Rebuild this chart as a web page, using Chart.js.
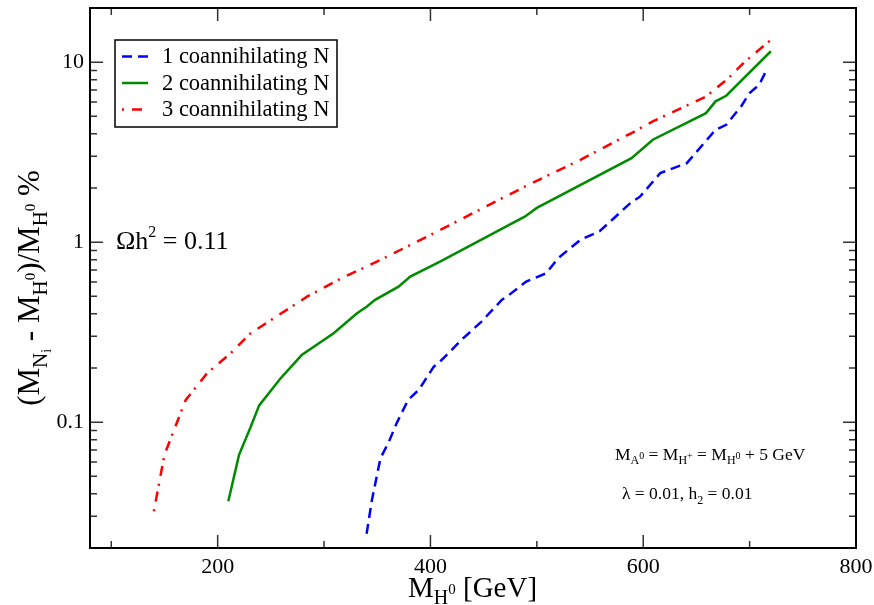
<!DOCTYPE html>
<html>
<head>
<meta charset="utf-8">
<script src="https://cdn.jsdelivr.net/npm/chart.js@4"></script>
<style>
  html, body { margin: 0; padding: 0; background: #fff; }
  #wrap { width: 874px; height: 605px; }
</style>
</head>
<body>
<div id="wrap"><canvas id="plot" width="874" height="605"></canvas></div>
<script>
// values
const mass1 = [340, 345, 353, 361, 368, 379, 389, 403, 409, 429, 448, 467, 472, 490, 509, 520, 541, 559, 588, 597, 616, 641, 668, 678, 692, 700, 709, 717];
const split1 = [0.024, 0.037, 0.063, 0.078, 0.098, 0.133, 0.151, 0.203, 0.217, 0.286, 0.362, 0.478, 0.499, 0.604, 0.673, 0.815, 1.03, 1.15, 1.65, 1.79, 2.42, 2.75, 4.21, 4.49, 5.68, 6.74, 7.5, 9.29];

const mass2 = [210, 220, 231, 239, 259, 279, 309, 331, 340, 348, 370, 381, 409, 489, 500, 589, 609, 659, 668, 678, 720];
const split2 = [0.0364, 0.0656, 0.094, 0.124, 0.175, 0.236, 0.312, 0.403, 0.438, 0.478, 0.566, 0.644, 0.78, 1.39, 1.55, 2.93, 3.71, 5.21, 6.06, 6.51, 11.5];

const mass3 = [140, 150, 170, 190, 212, 231, 284, 315, 353, 403, 489, 541, 589, 609, 659, 680, 695, 720];
const split3 = [0.032, 0.066, 0.133, 0.187, 0.241, 0.312, 0.498, 0.625, 0.797, 1.12, 2.04, 2.87, 4.04, 4.69, 6.44, 8.14, 10, 13.3];

const seriesNames = ["1 coannihilating N", "2 coannihilating N", "3 coannihilating N"];
const xMajor = [200, 400, 600, 800];
const xMinor = [100, 300, 500, 700];
const yMajor = [0.1, 1, 10];

const SERIF = '"Liberation Serif", "Times New Roman", serif';

function pts(xs, ys) {
    return xs.map((x, i) => ({ x: x, y: ys[i] }));
}

// draws a run of text pieces (sub/superscripts) starting at x, baseline y
function richWidth(ctx, parts) {
    let w = 0;
    for (const p of parts) {
        ctx.font = p.s + "px " + SERIF;
        w += ctx.measureText(p.t).width;
    }
    return w;
}
function drawRich(ctx, parts, x, y) {
    ctx.textBaseline = "alphabetic";
    ctx.textAlign = "left";
    for (const p of parts) {
        ctx.font = p.s + "px " + SERIF;
        ctx.fillText(p.t, x, y + (p.dy || 0));
        x += ctx.measureText(p.t).width;
    }
}

const decor = {
    id: "decor",
    afterDraw(chart) {
        const ctx = chart.ctx;
        const a = chart.chartArea;
        const xs = chart.scales.x, ys = chart.scales.y;
        ctx.save();
        ctx.fillStyle = "#000";

        // ticks pointing inwards on all four sides
        ctx.lineWidth = 1.5;
        ctx.strokeStyle = "#333";
        ctx.beginPath();
        const xt = (v, len) => {
            const px = xs.getPixelForValue(v);
            ctx.moveTo(px, a.bottom); ctx.lineTo(px, a.bottom - len);
            ctx.moveTo(px, a.top); ctx.lineTo(px, a.top + len);
        };
        xMajor.forEach(v => xt(v, 13));
        xMinor.forEach(v => xt(v, 7));
        const yt = (v, len) => {
            const py = ys.getPixelForValue(v);
            ctx.moveTo(a.left, py); ctx.lineTo(a.left + len, py);
            ctx.moveTo(a.right, py); ctx.lineTo(a.right - len, py);
        };
        yMajor.forEach(v => yt(v, 13));
        [0.01, 0.1, 1, 10].forEach(d => {
            for (let k = 2; k <= 9; k++) {
                const v = k * d;
                if (v > 0.02 && v < 20 && !yMajor.includes(v)) yt(v, 7);
            }
        });
        ctx.stroke();

        // frame
        ctx.strokeStyle = "#000";
        ctx.lineWidth = 2;
        ctx.strokeRect(a.left, a.top, a.right - a.left, a.bottom - a.top);

        // x title
        const xParts = [
            { t: "M", s: 29 }, { t: "H", s: 20, dy: 7 }, { t: "0", s: 15, dy: -3 },
            { t: " [GeV]", s: 29 }
        ];
        drawRich(ctx, xParts, 408, 597);

        // y title
        const yParts = [
            { t: "(M", s: 31 }, { t: "N", s: 21, dy: 8 }, { t: "i", s: 14, dy: 12 },
            { t: " - M", s: 31 }, { t: "H", s: 21, dy: 8 }, { t: "0", s: 15, dy: -4 },
            { t: ")/M", s: 31 }, { t: "H", s: 21, dy: 8 }, { t: "0", s: 15, dy: -4 },
            { t: " %", s: 31 }
        ];
        ctx.save();
        ctx.translate(39, 288);
        ctx.rotate(-Math.PI / 2);
        drawRich(ctx, yParts, -richWidth(ctx, yParts) / 2, 0);
        ctx.restore();

        // annotations
        drawRich(ctx, [
            { t: "\u03A9h", s: 26 }, { t: "2", s: 16, dy: -12 }, { t: " = 0.11", s: 26 }
        ], 116, 249);
        drawRich(ctx, [
            { t: "M", s: 17.5 }, { t: "A", s: 12, dy: 4 }, { t: "0", s: 10, dy: -1 },
            { t: " = M", s: 17.5 }, { t: "H", s: 12, dy: 4 }, { t: "+", s: 10, dy: -1 },
            { t: " = M", s: 17.5 }, { t: "H", s: 12, dy: 4 }, { t: "0", s: 10, dy: -1 },
            { t: " + 5 GeV", s: 17.5 }
        ], 615, 460);
        drawRich(ctx, [
            { t: "\u03BB = 0.01, h", s: 17.5 }, { t: "2", s: 12, dy: 5 }, { t: " = 0.01", s: 17.5 }
        ], 622, 499);

        // legend box
        ctx.lineWidth = 1.5;
        ctx.strokeStyle = "#000";
        ctx.fillStyle = "#fff";
        ctx.fillRect(115, 40, 222, 87);
        ctx.strokeRect(115, 40, 222, 87);
        chart.data.datasets.forEach((ds, i) => {
            const y = 56.5 + i * 26.5;
            ctx.beginPath();
            ctx.setLineDash(ds.borderDash || []);
            ctx.strokeStyle = ds.borderColor;
            ctx.lineWidth = ds.borderWidth;
            ctx.moveTo(122, y); ctx.lineTo(148, y);
            ctx.stroke();
            ctx.setLineDash([]);
            ctx.fillStyle = "#000";
            ctx.font = "22.5px " + SERIF;
            ctx.textBaseline = "middle";
            ctx.textAlign = "left";
            ctx.fillText(ds.label, 162, y + 1);
        });
        ctx.restore();
    }
};

new Chart(document.getElementById("plot"), {
    type: "line",
    data: {
        datasets: [
            { label: seriesNames[0], data: pts(mass1, split1), borderColor: "#0000ff", borderWidth: 2.5, borderDash: [10, 6] },
            { label: seriesNames[1], data: pts(mass2, split2), borderColor: "#008b00", borderWidth: 2.5 },
            { label: seriesNames[2], data: pts(mass3, split3), borderColor: "#ff0000", borderWidth: 2.5, borderDash: [2, 8, 10, 6] }
        ]
    },
    options: {
        responsive: false,
        animation: false,
        parsing: false,
        elements: { point: { radius: 0 }, line: { tension: 0, fill: false } },
        layout: { padding: { left: 0, top: 8, right: 18, bottom: 0 } },
        plugins: { legend: { display: false }, tooltip: { enabled: false } },
        scales: {
            x: {
                type: "linear", min: 80, max: 800,
                afterBuildTicks: s => { s.ticks = xMajor.map(v => ({ value: v })); },
                afterFit: s => { s.height = 57; s.paddingLeft = 0; s.paddingRight = 0; },
                grid: { display: false, drawTicks: false, tickLength: 0 }, border: { display: false },
                ticks: { color: "#000", font: { family: SERIF, size: 22 }, padding: 6, maxRotation: 0 }
            },
            y: {
                type: "logarithmic", min: 0.02, max: 20,
                afterBuildTicks: s => { s.ticks = yMajor.map(v => ({ value: v })); },
                afterFit: s => { s.width = 90; s.paddingTop = 0; s.paddingBottom = 0; },
                grid: { display: false, drawTicks: false, tickLength: 0 }, border: { display: false },
                ticks: { color: "#000", font: { family: SERIF, size: 22 }, padding: 6, callback: v => String(v) }
            }
        }
    },
    plugins: [decor]
});
</script>
</body>
</html>
